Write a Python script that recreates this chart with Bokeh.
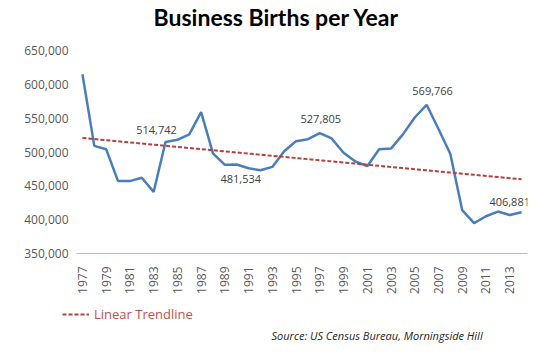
import numpy as np
from bokeh.plotting import figure
from bokeh.layouts import column
from bokeh.models import (Range1d, FixedTicker, NumeralTickFormatter, Label,
                          Legend, LegendItem, ColumnDataSource)
from bokeh.core.properties import value
from bokeh.embed import file_html
from bokeh.resources import INLINE

# ---- data ----
years = list(range(1977, 2015))
births = [615000, 509000, 504000, 457000, 457000, 462000, 441000, 514742,
          518000, 526000, 559000, 498000, 481000, 481534, 476000, 473000,
          478000, 501000, 516000, 519000, 527805, 520000, 499000, 486000,
          479000, 504000, 505000, 526000, 551000, 569766, 534000, 497000,
          414000, 395000, 405000, 412000, 406881, 411000]
labeled_years = [1984, 1990, 1997, 2006, 2013]
y_ticks = [350000, 400000, 450000, 500000, 550000, 600000, 650000]
x_ticks = list(range(1977, 2014, 2))
title_text = "Business Births per Year"
trend_label = "Linear Trendline"
source_text = "Source: US Census Bureau, Morningside Hill"

# linear trendline (least squares fit of the series)
slope, intercept = np.polyfit(years, births, 1)
trend = [slope * y + intercept for y in years]

# label placement offsets (pixels) — styling only
label_offsets = {1984: (-9, -12), 1990: (4, 15), 1997: (1, -14),
                 2006: (6, -14), 2013: (0, -13)}

W = 531
H_HEAD, H_MAIN, H_FOOT = 36, 260, 48


def no_align(f):
    try:
        f.frame_align = False
    except AttributeError:
        pass


def blank(height):
    f = figure(width=W, height=height, output_backend="svg",
               toolbar_location=None, x_axis_location=None,
               y_axis_location=None, min_border=0,
               x_range=Range1d(0, W), y_range=Range1d(0, height))
    f.outline_line_color = None
    f.grid.visible = False
    f.background_fill_color = "white"
    f.border_fill_color = "white"
    no_align(f)
    return f


# ---- header with title ----
head = blank(H_HEAD)
head.add_layout(Label(x=276, y=20, x_units="screen", y_units="screen",
                      text=title_text, text_align="center",
                      text_baseline="middle", text_font="Lato",
                      text_font_style="bold", text_font_size="23px",
                      text_color="#000000"))

# ---- main chart ----
p = figure(width=W, height=H_MAIN, output_backend="svg", toolbar_location=None,
           x_range=Range1d(1976.5, 2014.5), y_range=Range1d(350000, 650000),
           min_border_left=76, min_border_right=4, min_border_top=14,
           min_border_bottom=35)
no_align(p)
p.outline_line_color = None
p.grid.visible = False
p.background_fill_color = "white"
p.border_fill_color = "white"

p.yaxis.ticker = FixedTicker(ticks=y_ticks)
p.yaxis.formatter = NumeralTickFormatter(format="0,0")
p.yaxis.axis_line_color = None
p.yaxis.major_tick_line_color = None
p.yaxis.minor_tick_line_color = None
p.yaxis.major_tick_out = 0
p.yaxis.major_tick_in = 0
p.yaxis.major_label_standoff = 8
p.yaxis.major_label_text_font = "Open Sans"
p.yaxis.major_label_text_font_size = "12px"
p.yaxis.major_label_text_color = "#595959"

p.xaxis.ticker = FixedTicker(ticks=x_ticks)
p.xaxis.major_label_orientation = np.pi / 2
p.xaxis.axis_line_color = "#bfbfbf"
p.xaxis.axis_line_width = 1
p.xaxis.major_tick_line_color = None
p.xaxis.minor_tick_line_color = None
p.xaxis.major_tick_out = 0
p.xaxis.major_tick_in = 0
p.xaxis.major_label_standoff = 13
p.xaxis.major_label_text_font = "Open Sans"
p.xaxis.major_label_text_font_size = "12px"
p.xaxis.major_label_text_color = "#595959"

src = ColumnDataSource(dict(year=years, births=births, trend=trend))
p.line("year", "births", source=src, line_color="#4a7ebb", line_width=2.5)
p.line("year", "trend", source=src, line_color="#b5403e", line_width=2,
       line_dash="4 2")

lab_y = [births[years.index(y)] for y in labeled_years]
lab_t = [f"{v:,}" for v in lab_y]
p.text(x=labeled_years, y=lab_y, text=lab_t,
       x_offset=[label_offsets[y][0] for y in labeled_years],
       y_offset=[label_offsets[y][1] for y in labeled_years],
       text_align="center", text_baseline="middle",
       text_font=value("Open Sans"), text_font_size="11px", text_color="#404040")

# ---- footer with legend and source ----
foot = blank(H_FOOT)
# same trend series; lies outside this strip's ranges, only feeds the legend glyph
tr_key = foot.line(years, trend, line_color="#b5403e", line_width=2,
                   line_dash="4 2")
legend = Legend(items=[LegendItem(label=trend_label, renderers=[tr_key])],
                location=(62, 20), border_line_color=None,
                background_fill_alpha=0, padding=0, margin=0,
                glyph_width=27, glyph_height=16, label_standoff=5,
                label_height=20,
                label_text_font="Open Sans", label_text_font_size="13px",
                label_text_color="#c0504d")
foot.add_layout(legend)
foot.add_layout(Label(x=271, y=9, x_units="screen", y_units="screen",
                      text=source_text, text_align="left",
                      text_baseline="middle", text_font="Open Sans",
                      text_font_style="italic", text_font_size="11px",
                      text_color="#262626"))

layout = column(head, p, foot, spacing=0)
open("out.html", "w").write(file_html(layout, INLINE))
